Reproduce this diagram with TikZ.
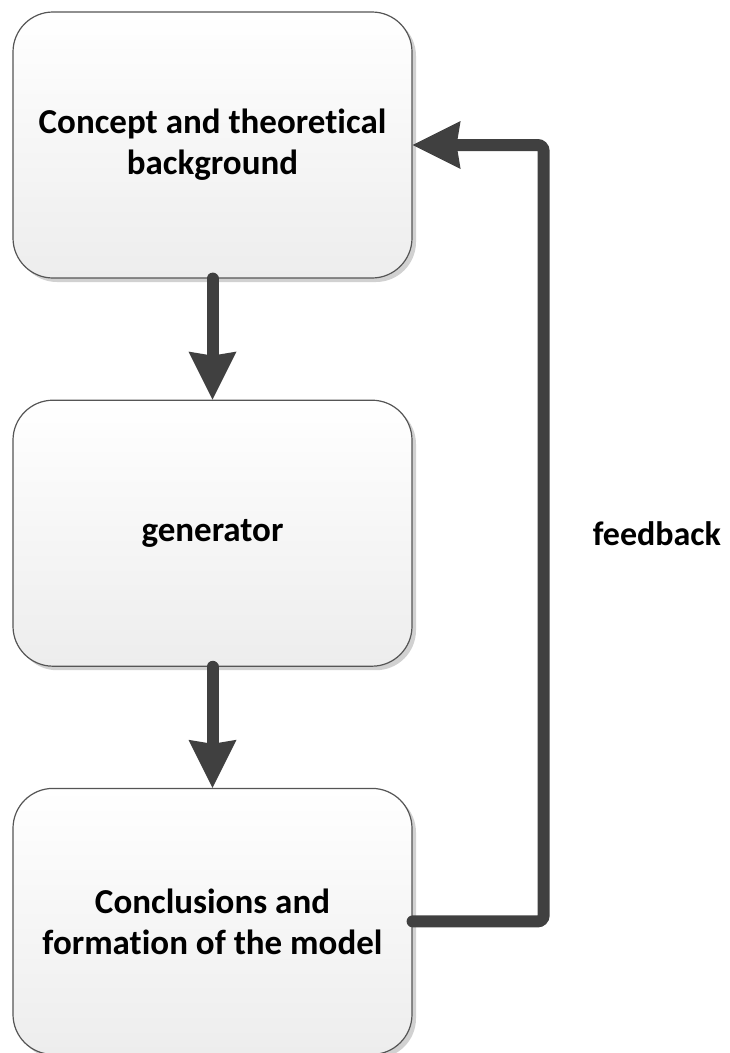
\documentclass[tikz,border=0pt]{standalone}
\usepackage{fontspec}
\setmainfont{Carlito}[Ligatures=CommonOff]
\usetikzlibrary{arrows.meta, positioning, shadows}
\definecolor{arrowgray}{HTML}{404040}
\definecolor{boxedge}{HTML}{555555}
\definecolor{boxbottom}{HTML}{EDEDED}
\tikzset{
  box/.style={rectangle,draw=boxedge,line width=1.2pt,rounded corners=40pt,align=center,
    top color=white,bottom color=boxbottom,minimum width=399pt,minimum height=266pt,inner sep=4pt,
    font=\fontsize{35}{41}\selectfont\bfseries,
    drop shadow={shadow xshift=4pt,shadow yshift=-4pt,fill=black!18,opacity=1}},
  line/.style={draw=arrowgray,line width=12pt,line cap=round,
    -{Stealth[length=48pt,width=48pt,inset=4pt,line width=0pt]}},
  fbtext/.style={font=\fontsize{34}{41}\selectfont\bfseries,inner sep=0pt}
}

\begin{document}
\begin{tikzpicture}[x=1pt,y=1pt,node distance=121pt]
\useasboundingbox (0,0) rectangle (729,-1053);
\node[box] (a) at (212.5,-145) {Concept and theoretical\\background};
\node[box, below=of a] (b) {generator};
\node[box, below=of b] (c) {Conclusions and\\formation of the model};
\coordinate[right=131pt of a.east] (turn);
\coordinate (fbmid) at (b.east -| turn);
\node[fbtext, right=49pt of fbmid] (fb) {feedback};
\draw[line] (a) -- (b);
\draw[line] (b) -- (c);
\draw[line, rounded corners=6pt] (c.east) -| (turn) -- (a.east);
\end{tikzpicture}
\end{document}
